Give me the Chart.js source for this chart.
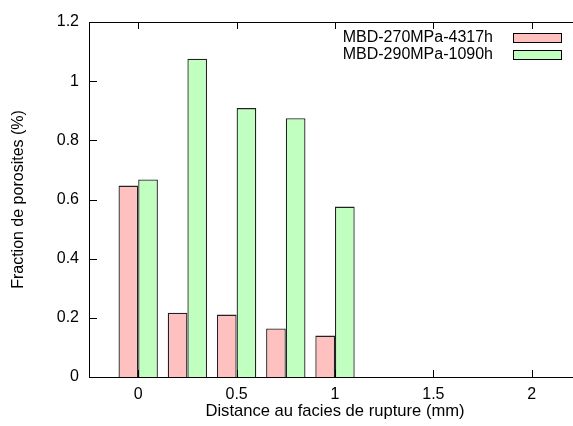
<!DOCTYPE html>
<html>
<head>
<meta charset="utf-8">
<script src="https://cdn.jsdelivr.net/npm/chart.js@4/dist/chart.umd.min.js"></script>
<style>
  html, body { margin: 0; padding: 0; background: #fff; overflow: hidden; }
  #wrap { width: 600px; height: 426px; }
</style>
</head>
<body>
<div id="wrap"><canvas id="chart"></canvas></div>
<script>
// distances (mm) and porosity fractions (%)
const distances = [0, 0.25, 0.5, 0.75, 1];
const series1 = [0.647, 0.217, 0.211, 0.164, 0.140];
const series2 = [0.668, 1.076, 0.909, 0.875, 0.576];
const seriesLabels = ['MBD-270MPa-4317h', 'MBD-290MPa-1090h'];
const seriesColors = ['#ffc0c0', '#c0ffc0'];
const xTicks = [0, 0.5, 1, 1.5, 2];
const yTicks = [0, 0.2, 0.4, 0.6, 0.8, 1, 1.2];

const FONT = '"Liberation Sans", Arial, sans-serif';
Chart.defaults.font.family = FONT;
Chart.defaults.font.size = 16;
Chart.defaults.color = '#000';

// gnuplot-like frame with inward ticks, plus the key at the top right
// (lines drawn as 1px filled rects)
const framePlugin = {
  id: 'frame',
  afterDraw(chart) {
    const ctx = chart.ctx;
    const xs = chart.scales.x, ys = chart.scales.y;
    const L = Math.round(xs.left), R = Math.round(xs.right);
    const T = Math.round(ys.top), B = Math.round(ys.bottom);
    ctx.save();
    ctx.fillStyle = '#000';
    ctx.fillRect(L, T, R - L + 1, 1);
    ctx.fillRect(L, B, R - L + 1, 1);
    ctx.fillRect(L, T, 1, B - T + 1);
    ctx.fillRect(R, T, 1, B - T + 1);
    xTicks.forEach(v => {
      const px = Math.round(xs.getPixelForValue(v));
      ctx.fillRect(px, B - 7, 1, 7);
      ctx.fillRect(px, T, 1, 7);
    });
    yTicks.forEach(v => {
      const py = Math.round(ys.getPixelForValue(v));
      ctx.fillRect(L, py, 8, 1);
      ctx.fillRect(R - 7, py, 8, 1);
    });

    // key
    ctx.font = '16px ' + FONT;
    ctx.textAlign = 'right';
    ctx.textBaseline = 'middle';
    chart.data.datasets.forEach((ds, i) => {
      const y = 38 + i * 17;
      ctx.fillStyle = '#000';
      ctx.fillText(ds.label, 493, y);
      ctx.fillRect(513, y - 5, 49, 10);
      ctx.fillStyle = ds.backgroundColor;
      ctx.fillRect(514, y - 4, 47, 8);
    });
    ctx.restore();
  }
};

new Chart(document.getElementById('chart'), {
  type: 'bar',
  data: {
    datasets: [
      {
        label: seriesLabels[0],
        data: distances.map((d, i) => ({ x: d, y: series1[i] })),
        backgroundColor: seriesColors[0],
        borderColor: '#222',
        borderWidth: 1.3
      },
      {
        label: seriesLabels[1],
        data: distances.map((d, i) => ({ x: d, y: series2[i] })),
        backgroundColor: seriesColors[1],
        borderColor: '#222',
        borderWidth: 1.3
      }
    ]
  },
  options: {
    responsive: true,
    maintainAspectRatio: false,
    animation: false,
    categoryPercentage: 0.8,
    barPercentage: 1.0,
    layout: { padding: { top: 22, right: 19, left: 0, bottom: 0 } },
    plugins: {
      legend: { display: false },
      tooltip: { enabled: false }
    },
    scales: {
      x: {
        type: 'linear',
        offset: false,
        min: -0.25,
        max: 2.25,
        afterBuildTicks(scale) { scale.ticks = xTicks.map(v => ({ value: v })); },
        afterFit(scale) { scale.height = 49; },
        grid: { display: false, drawTicks: false },
        border: { display: false },
        ticks: { padding: 8, maxRotation: 0, autoSkip: false, callback: v => String(v) },
        title: {
          display: true,
          text: 'Distance au facies de rupture (mm)',
          font: { size: 16.6 },
          padding: { top: 0, bottom: 5 }
        }
      },
      y: {
        min: 0,
        max: 1.2,
        afterBuildTicks(scale) { scale.ticks = yTicks.map(v => ({ value: v })); },
        afterFit(scale) { scale.width = 89; },
        grid: { display: false, drawTicks: false },
        border: { display: false },
        ticks: { padding: 10, autoSkip: false, callback: v => String(v) },
        title: {
          display: true,
          text: 'Fraction de porosites (%)',
          padding: { top: 9, bottom: 0 }
        }
      }
    }
  },
  plugins: [framePlugin]
});
</script>
</body>
</html>
